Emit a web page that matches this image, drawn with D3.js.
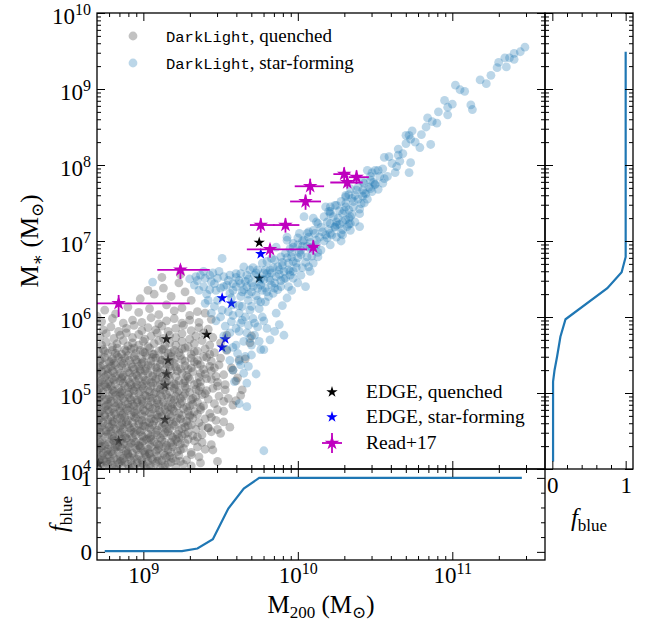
<!DOCTYPE html>
<html><head><meta charset="utf-8">
<script src="https://cdn.jsdelivr.net/npm/d3@7"></script>
<style>body{margin:0;background:#fff}svg{display:block}text{font-family:"Liberation Serif","DejaVu Serif",serif;fill:#000}</style>
</head><body><svg id="c" width="654" height="625"></svg>
<script>
// ---------- DATA (log10 values) ----------
// DarkLight quenched: [log M200, log M*]
const quenched = [
[8.70,4.03],[8.72,4.08],[8.75,4.01],[8.77,4.06],[8.79,4.10],[8.81,4.02],[8.84,4.07],[8.86,4.04],[8.88,4.09],[8.91,4.01],[8.93,4.05],[8.96,4.08],[8.98,4.02],[9.00,4.06],[9.03,4.10],[9.05,4.03],[9.08,4.07],[9.11,4.01],[9.14,4.05],[9.18,4.09],[9.21,4.02],[9.26,4.06],[9.31,4.04],[9.37,4.08],
[8.71,4.13],[8.73,4.18],[8.76,4.11],[8.78,4.16],[8.80,4.20],[8.83,4.12],[8.85,4.17],[8.87,4.14],[8.90,4.19],[8.92,4.11],[8.94,4.15],[8.97,4.18],[8.99,4.12],[9.02,4.16],[9.04,4.20],[9.06,4.13],[9.09,4.17],[9.12,4.11],[9.15,4.15],[9.19,4.14],[9.23,4.18],[9.28,4.12],[9.36,4.16],
[8.70,4.24],[8.72,4.28],[8.74,4.21],[8.77,4.26],[8.79,4.23],[8.82,4.29],[8.84,4.22],[8.86,4.27],[8.89,4.24],[8.91,4.29],[8.93,4.21],[8.96,4.25],[8.98,4.28],[9.01,4.22],[9.03,4.26],[9.05,4.29],[9.08,4.23],[9.10,4.27],[9.13,4.21],[9.16,4.25],[9.19,4.29],[9.22,4.23],[9.26,4.27],[9.31,4.22],[9.40,4.26],
[8.71,4.33],[8.73,4.38],[8.75,4.31],[8.78,4.35],[8.80,4.39],[8.82,4.32],[8.85,4.36],[8.87,4.33],[8.89,4.40],[8.92,4.34],[8.94,4.37],[8.97,4.31],[8.99,4.35],[9.02,4.39],[9.04,4.32],[9.07,4.36],[9.09,4.33],[9.12,4.38],[9.15,4.31],[9.18,4.35],[9.21,4.39],[9.24,4.33],[9.27,4.34],[9.33,4.37],[9.44,4.32],
[8.70,4.44],[8.72,4.48],[8.75,4.42],[8.77,4.46],[8.79,4.49],[8.81,4.41],[8.84,4.45],[8.86,4.49],[8.88,4.43],[8.91,4.47],[8.93,4.41],[8.95,4.45],[8.98,4.49],[9.00,4.42],[9.03,4.46],[9.05,4.43],[9.08,4.48],[9.11,4.41],[9.13,4.45],[9.16,4.49],[9.19,4.42],[9.22,4.46],[9.25,4.44],[9.29,4.48],[9.35,4.42],[9.38,4.45],[9.50,4.47],
[8.71,4.53],[8.73,4.57],[8.76,4.51],[8.78,4.55],[8.80,4.59],[8.82,4.52],[8.85,4.56],[8.87,4.53],[8.90,4.58],[8.92,4.51],[8.94,4.55],[8.97,4.59],[8.99,4.52],[9.01,4.56],[9.04,4.54],[9.06,4.58],[9.09,4.51],[9.12,4.55],[9.14,4.59],[9.17,4.53],[9.20,4.57],[9.23,4.51],[9.27,4.55],[9.31,4.58],[9.34,4.52],[9.42,4.54],[9.56,4.55],
[8.70,4.63],[8.72,4.67],[8.74,4.61],[8.77,4.65],[8.79,4.69],[8.81,4.62],[8.83,4.66],[8.86,4.61],[8.88,4.68],[8.90,4.64],[8.93,4.61],[8.95,4.67],[8.97,4.63],[9.00,4.69],[9.02,4.62],[9.05,4.66],[9.07,4.63],[9.10,4.68],[9.13,4.61],[9.15,4.65],[9.18,4.69],[9.21,4.62],[9.24,4.66],[9.28,4.63],[9.32,4.67],[9.36,4.61],[9.40,4.66],[9.47,4.64],
[8.71,4.73],[8.73,4.77],[8.75,4.71],[8.78,4.75],[8.80,4.79],[8.82,4.72],[8.85,4.76],[8.87,4.73],[8.89,4.79],[8.92,4.71],[8.94,4.75],[8.96,4.78],[8.99,4.72],[9.01,4.76],[9.04,4.74],[9.06,4.79],[9.09,4.71],[9.11,4.75],[9.14,4.78],[9.17,4.72],[9.20,4.76],[9.23,4.73],[9.26,4.79],[9.30,4.71],[9.33,4.75],[9.37,4.78],[9.43,4.73],[9.52,4.76],
[8.70,4.84],[8.72,4.88],[8.75,4.81],[8.77,4.85],[8.79,4.89],[8.82,4.82],[8.84,4.86],[8.86,4.83],[8.88,4.89],[8.91,4.81],[8.93,4.85],[8.96,4.88],[8.98,4.82],[9.00,4.86],[9.03,4.84],[9.05,4.89],[9.08,4.81],[9.10,4.85],[9.13,4.88],[9.16,4.82],[9.19,4.86],[9.22,4.83],[9.25,4.89],[9.28,4.81],[9.32,4.85],[9.35,4.88],[9.39,4.83],[9.46,4.86],[9.58,4.84],
[8.71,4.93],[8.73,4.97],[8.76,4.91],[8.78,4.95],[8.80,4.99],[8.83,4.92],[8.85,4.96],[8.87,4.93],[8.90,4.98],[8.92,4.91],[8.94,4.95],[8.97,4.99],[8.99,4.92],[9.02,4.96],[9.04,4.94],[9.07,4.99],[9.09,4.91],[9.12,4.95],[9.15,4.98],[9.18,4.92],[9.21,4.96],[9.24,4.93],[9.27,4.99],[9.31,4.91],[9.34,4.95],[9.38,4.98],[9.42,4.92],[9.49,4.96],[9.63,4.97],
[8.70,5.03],[8.72,5.07],[8.74,5.01],[8.77,5.05],[8.79,5.09],[8.81,5.02],[8.84,5.06],[8.86,5.03],[8.88,5.09],[8.91,5.01],[8.93,5.05],[8.95,5.08],[8.98,5.02],[9.00,5.06],[9.03,5.04],[9.05,5.09],[9.08,5.01],[9.11,5.05],[9.14,5.08],[9.17,5.02],[9.20,5.06],[9.23,5.03],[9.27,5.09],[9.30,5.01],[9.34,5.05],[9.37,5.08],[9.41,5.03],[9.45,5.06],[9.53,5.04],
[8.71,5.13],[8.73,5.17],[8.75,5.11],[8.78,5.15],[8.80,5.19],[8.82,5.12],[8.85,5.16],[8.87,5.13],[8.90,5.18],[8.92,5.11],[8.95,5.15],[8.97,5.19],[9.00,5.12],[9.02,5.16],[9.05,5.14],[9.08,5.18],[9.11,5.11],[9.14,5.15],[9.17,5.19],[9.20,5.12],[9.23,5.16],[9.26,5.13],[9.30,5.18],[9.33,5.11],[9.37,5.15],[9.41,5.19],[9.48,5.14],[9.60,5.16],
[8.70,5.24],[8.73,5.28],[8.75,5.21],[8.77,5.25],[8.80,5.29],[8.82,5.22],[8.85,5.26],[8.87,5.23],[8.90,5.28],[8.93,5.21],[8.95,5.25],[8.98,5.29],[9.00,5.22],[9.03,5.26],[9.06,5.24],[9.09,5.28],[9.12,5.21],[9.15,5.25],[9.18,5.29],[9.21,5.22],[9.25,5.26],[9.28,5.23],[9.32,5.28],[9.36,5.21],[9.40,5.25],[9.44,5.29],[9.52,5.24],
[8.71,5.33],[8.74,5.37],[8.76,5.31],[8.79,5.35],[8.81,5.39],[8.84,5.32],[8.86,5.36],[8.89,5.33],[8.92,5.38],[8.94,5.31],[8.97,5.35],[8.99,5.39],[9.02,5.32],[9.05,5.36],[9.08,5.34],[9.11,5.38],[9.14,5.31],[9.17,5.35],[9.20,5.39],[9.24,5.32],[9.27,5.36],[9.31,5.33],[9.35,5.38],[9.39,5.31],[9.43,5.35],[9.49,5.37],[9.57,5.33],
[8.72,5.43],[8.75,5.47],[8.78,5.41],[8.80,5.45],[8.83,5.49],[8.86,5.42],[8.88,5.46],[8.91,5.43],[8.94,5.48],[8.96,5.41],[8.99,5.45],[9.02,5.49],[9.05,5.42],[9.08,5.46],[9.11,5.44],[9.14,5.48],[9.17,5.41],[9.20,5.45],[9.24,5.49],[9.27,5.42],[9.31,5.46],[9.35,5.43],[9.39,5.48],[9.44,5.42],[9.50,5.46],[9.62,5.44],
[8.71,5.53],[8.74,5.57],[8.77,5.52],[8.80,5.56],[8.83,5.59],[8.86,5.51],[8.89,5.55],[8.92,5.58],[8.95,5.52],[8.98,5.56],[9.01,5.53],[9.04,5.59],[9.07,5.51],[9.10,5.55],[9.13,5.58],[9.16,5.52],[9.20,5.56],[9.23,5.53],[9.27,5.59],[9.31,5.51],[9.35,5.55],[9.40,5.58],[9.46,5.53],[9.54,5.56],
[8.73,5.63],[8.76,5.67],[8.80,5.61],[8.83,5.65],[8.87,5.69],[8.90,5.62],[8.93,5.66],[8.97,5.63],[9.00,5.68],[9.03,5.61],[9.07,5.65],[9.10,5.69],[9.14,5.62],[9.17,5.66],[9.21,5.63],[9.25,5.68],[9.29,5.61],[9.33,5.65],[9.38,5.69],[9.43,5.63],[9.50,5.66],[9.69,5.66],
[8.72,5.74],[8.76,5.78],[8.81,5.72],[8.85,5.76],[8.89,5.79],[8.93,5.73],[8.97,5.77],[9.01,5.71],[9.05,5.75],[9.09,5.79],[9.13,5.72],[9.17,5.76],[9.21,5.73],[9.25,5.78],[9.30,5.71],[9.34,5.75],[9.39,5.79],[9.45,5.73],[9.54,5.76],
[8.74,5.83],[8.79,5.87],[8.84,5.81],[8.89,5.85],[8.94,5.89],[8.99,5.82],[9.03,5.86],[9.08,5.83],[9.12,5.88],[9.16,5.81],[9.21,5.85],[9.26,5.89],[9.31,5.82],[9.36,5.86],[9.42,5.84],
[8.73,5.94],[8.80,5.98],[8.87,5.92],[8.93,5.96],[8.99,5.93],[9.05,5.99],[9.10,5.91],[9.15,5.95],[9.20,5.98],[9.25,5.92],[9.30,5.96],[9.36,5.93],[9.44,5.97],
[8.75,6.09],[8.82,6.04],[8.90,6.13],[8.97,6.06],[9.04,6.11],[9.10,6.03],[9.15,6.16],[9.20,6.08],[9.25,6.12],[9.30,6.02],[9.35,6.07],[8.70,6.01],[9.40,6.05],
[8.98,6.24],[9.07,6.30],[9.13,6.38],[9.18,6.27],[9.23,6.45],[9.27,6.33],[9.31,6.22],[9.12,6.52],[9.24,6.56],[9.03,6.35],
[9.64,5.04],[9.58,5.30],[9.66,5.45],[9.61,5.20],[9.70,5.75],[9.48,4.10],[9.52,4.62],[9.60,4.90],[9.45,4.25],[9.42,4.54],
[8.72,4.05],[8.76,4.09],[8.80,4.05],[8.85,4.10],[8.90,4.06],[8.94,4.03],[8.99,4.08],[9.04,4.05],[9.09,4.10],[9.13,4.03],[9.16,4.07],[9.24,4.10],[8.82,4.00],[9.02,4.00],
[8.72,4.15],[8.77,4.19],[8.81,4.14],[8.86,4.11],[8.91,4.16],[8.96,4.13],[9.01,4.19],[9.05,4.15],[9.10,4.12],[9.14,4.18],[9.21,4.11],[9.31,4.19],[8.74,4.12],[8.89,4.20],[9.17,4.17],
[8.71,4.26],[8.76,4.23],[8.81,4.25],[8.85,4.29],[8.90,4.21],[8.95,4.27],[9.00,4.24],[9.04,4.21],[9.09,4.25],[9.14,4.28],[9.18,4.22],[9.24,4.25],[9.35,4.29],[8.73,4.30],[8.98,4.30],
[8.72,4.35],[8.77,4.32],[8.81,4.37],[8.86,4.39],[8.90,4.31],[8.95,4.35],[9.00,4.37],[9.05,4.39],[9.10,4.31],[9.14,4.35],[9.19,4.32],[9.29,4.39],[8.83,4.30],[9.22,4.36],[9.38,4.35],
[8.71,4.46],[8.76,4.49],[8.80,4.43],[8.85,4.47],[8.89,4.41],[8.94,4.48],[8.99,4.44],[9.04,4.41],[9.09,4.45],[9.14,4.48],[9.18,4.44],[9.23,4.41],[9.27,4.46],[9.32,4.44],[9.44,4.49],
[8.72,4.55],[8.77,4.59],[8.81,4.53],[8.86,4.58],[8.91,4.54],[8.96,4.51],[9.00,4.57],[9.05,4.52],[9.10,4.57],[9.15,4.53],[9.19,4.59],[9.25,4.53],[9.29,4.57],[9.38,4.56],[9.48,4.52],
[8.71,4.65],[8.75,4.69],[8.80,4.63],[8.85,4.67],[8.89,4.62],[8.94,4.69],[8.99,4.64],[9.04,4.61],[9.08,4.66],[9.12,4.69],[9.17,4.63],[9.22,4.67],[9.26,4.61],[9.30,4.69],[9.44,4.68],
[8.72,4.75],[8.77,4.78],[8.81,4.74],[8.86,4.71],[8.90,4.77],[8.95,4.73],[9.00,4.78],[9.05,4.72],[9.10,4.77],[9.15,4.74],[9.19,4.79],[9.25,4.71],[9.29,4.76],[9.35,4.72],[9.48,4.78],
[8.71,4.86],[8.76,4.83],[8.81,4.87],[8.85,4.81],[8.90,4.86],[8.94,4.83],[8.99,4.89],[9.04,4.82],[9.09,4.87],[9.14,4.84],[9.18,4.81],[9.24,4.86],[9.30,4.83],[9.37,4.81],[9.52,4.89],
[8.72,4.95],[8.77,4.92],[8.82,4.97],[8.86,4.99],[8.91,4.94],[8.96,4.91],[9.01,4.97],[9.06,4.93],[9.11,4.98],[9.16,4.94],[9.20,4.91],[9.26,4.96],[9.32,4.93],[9.40,4.99],[9.55,4.93],
[8.71,5.05],[8.76,5.08],[8.80,5.04],[8.85,5.01],[8.90,5.07],[8.94,5.03],[8.99,5.09],[9.04,5.02],[9.09,5.07],[9.13,5.04],[9.18,5.09],[9.22,5.01],[9.28,5.06],[9.36,5.03],[9.48,5.09],
[8.72,5.15],[8.77,5.12],[8.81,5.17],[8.86,5.19],[8.91,5.14],[8.96,5.11],[9.01,5.17],[9.06,5.13],[9.10,5.18],[9.15,5.14],[9.21,5.11],[9.27,5.16],[9.35,5.13],[9.44,5.18],[9.53,5.11],
[8.71,5.26],[8.76,5.23],[8.81,5.27],[8.86,5.21],[8.91,5.26],[8.96,5.23],[9.01,5.29],[9.06,5.22],[9.11,5.27],[9.16,5.23],[9.22,5.29],[9.29,5.21],[9.37,5.26],[9.47,5.22],
[8.72,5.35],[8.77,5.32],[8.82,5.37],[8.87,5.39],[8.93,5.34],[8.98,5.31],[9.03,5.37],[9.09,5.33],[9.15,5.38],[9.21,5.34],[9.29,5.31],[9.37,5.37],[9.46,5.33],
[8.73,5.45],[8.79,5.42],[8.84,5.47],[8.90,5.49],[8.95,5.44],[9.00,5.41],[9.06,5.47],[9.12,5.43],[9.18,5.48],[9.25,5.44],[9.33,5.41],[9.41,5.47],
[8.75,5.55],[8.82,5.52],[8.88,5.57],[8.94,5.59],[9.00,5.54],[9.06,5.51],[9.12,5.57],[9.18,5.53],[9.25,5.58],[9.33,5.54],[9.43,5.51]
];
// DarkLight star-forming: [log M200, log M*]
const starForming = [
[11.47,9.55],[11.44,9.49],[11.40,9.47],[11.40,9.39],[11.37,9.41],[11.34,9.41],[11.35,9.29],[11.29,9.28],[11.22,9.07],[11.08,8.97],[11.05,8.99],[11.13,8.73],[11.12,8.79],[10.97,8.76],[10.97,8.66],[10.91,8.70],[10.87,8.57],[10.83,8.50],[10.86,8.27],[10.79,8.23],[10.74,8.45],[10.72,8.39],[10.70,8.39],[10.73,8.34],[10.65,8.21],[10.65,8.13],[10.66,8.05],[10.59,8.11],[10.56,8.10],[10.73,8.03],[10.72,7.90],[10.63,7.90],[10.52,7.93],[10.50,7.93],[10.48,7.90],[10.45,7.93],[10.56,7.82],[10.55,7.76],[10.47,7.85],[10.49,7.77],[10.46,7.71],[10.43,7.76],[10.48,7.65],[10.42,7.67],[10.38,7.67],[10.42,7.59],[10.35,7.56],[10.31,7.60],[10.31,7.50],[10.41,7.49],[10.43,7.50],[10.33,7.41],[10.28,7.52],[10.25,7.47],[10.34,7.32],[10.31,7.28],[10.29,7.25],[10.40,7.19],[10.34,7.23],[10.24,7.19],[10.25,7.25],[10.22,7.08],[10.28,7.10],[10.21,7.36],[10.21,7.45],
[10.47,7.69],[10.50,7.74],[10.43,7.63],[10.39,7.71],[10.33,7.61],[10.36,7.52],[10.40,7.36],[10.21,7.39],[10.29,7.36],[10.17,7.32],[10.21,7.23],[10.13,7.23],[10.25,7.21],[10.32,7.19],[10.10,7.14],[10.16,7.12],[10.06,7.10],[10.12,7.01],[10.04,7.01],[10.00,7.04],[10.08,6.90],[10.03,6.93],[9.97,6.97],[9.95,6.90],[9.93,7.01],[10.06,6.79],[10.02,6.82],[9.96,6.79],[9.92,6.84],[9.89,6.79],[9.99,6.71],[9.94,6.71],[9.90,6.68],[9.85,6.75],[9.83,6.77],[9.88,6.62],[9.82,6.62],[9.95,6.60],[9.97,6.51],[9.92,6.51],[9.86,6.53],[9.80,6.57],[9.78,6.49],[9.83,6.42],[9.89,6.40],[9.94,6.40],[9.80,6.33],[9.76,6.42],[9.74,6.38],[9.70,6.33],[9.67,6.40],[9.63,6.44],[9.58,6.44],[9.63,6.57],[9.67,6.55],[9.69,6.62],[9.65,6.66],[9.74,6.62],[9.80,6.73],[9.77,6.71],[9.60,6.57],[9.56,6.55],[9.52,6.53],[9.49,6.60],[9.51,6.77],[9.48,6.51],[9.43,6.55],[9.40,6.51],[9.37,6.55],[9.34,6.53],[9.46,6.44],[9.54,6.42],[9.50,6.38],[9.43,6.36],[9.39,6.40],[9.56,6.31],[9.63,6.27],[9.68,6.22],[9.74,6.22],[9.79,6.20],[9.84,6.31],[9.75,6.11],[9.69,6.09],[9.64,6.14],[9.58,6.16],[9.77,6.00],[9.71,5.98],[9.66,6.00],[9.62,6.05],[9.55,6.07],[9.51,6.09],[9.46,6.14],[9.42,6.22],[9.74,5.87],[9.68,5.89],[9.63,5.92],[9.57,5.94],[9.62,5.81],[9.67,5.79],[9.72,5.76],[9.56,5.79],[9.85,5.81],[9.91,5.76],[9.80,5.85],[9.65,5.68],[9.60,5.63],[9.70,5.63],[9.76,5.57],[9.54,5.57],[9.61,5.52],[9.66,5.48],[9.56,5.43],[9.63,5.37],[9.68,5.35],[9.58,5.30],[9.65,5.26],[9.78,5.57],[9.67,5.13],[9.62,4.86],[9.67,4.82],[9.78,4.24],[9.06,6.46],
[10.04,7.32],[10.12,7.25],[10.01,7.10],[10.20,7.39],[10.24,7.47],[10.31,7.58],[10.34,7.69],[10.07,7.12],[10.19,7.04],[10.29,7.08],[10.34,7.14],[10.37,7.25],[10.13,6.79],[10.10,6.71],[10.07,6.66],[9.97,6.73],[9.87,6.36],[9.81,6.27],[9.76,6.20],[9.70,6.14],
[9.55,6.48],[9.60,6.52],[9.66,6.47],[9.72,6.55],[9.78,6.58],[9.84,6.65],[9.90,6.72],[9.96,6.85],[10.02,6.88],[10.08,6.98],[10.14,7.05],[10.20,7.15],[10.26,7.30],[10.30,7.40],[10.36,7.45],[9.58,6.35],[9.64,6.33],[9.70,6.45],[9.76,6.50],[9.82,6.48],[9.88,6.56],[9.94,6.62],[10.00,6.78],[10.06,6.93],[10.12,6.95],[10.18,7.08],[10.24,7.18],[10.28,7.00],[9.52,6.40],[9.47,6.35],[9.44,6.47],[9.41,6.30],[9.48,6.22],[9.57,6.25],[9.62,6.15],[9.68,6.30],[9.73,6.28],[9.79,6.38],[9.85,6.45],[9.91,6.50],[9.97,6.60],[10.03,6.65],[10.09,6.80],[10.15,6.88],[10.21,6.95],[10.27,7.22],[10.33,7.30],[10.39,7.55],[10.44,7.62],[10.50,7.75],[10.53,7.85],[9.39,6.60],[9.35,6.48],[9.45,6.58],[9.71,6.65],[9.86,6.92],[9.93,7.05],[10.00,6.95],[10.18,7.45],[10.10,7.30],
[9.60,6.40],[9.62,6.48],[9.65,6.36],[9.68,6.50],[9.71,6.40],[9.73,6.58],[9.75,6.46],[9.77,6.35],[9.79,6.62],[9.81,6.52],[9.83,6.58],[9.85,6.38],[9.87,6.66],[9.89,6.48],[9.91,6.60],[9.93,6.78],[9.95,6.55],[9.97,6.92],[9.99,6.65],[10.01,6.85],[10.03,7.00],[10.05,6.72],[10.07,7.05],[10.09,6.92],[10.11,7.10],[10.13,6.85],[10.15,7.18],[10.17,7.00],[10.19,7.25],[10.21,7.10],[10.23,7.32],[10.25,7.05],[10.27,7.40],[10.29,7.15],[10.31,7.45],[10.33,7.22],[10.35,7.35],[10.37,7.60],[10.40,7.42],[10.42,7.78],[10.45,7.55],[10.47,7.80],[10.52,7.68],[10.55,7.95],[10.58,7.85],[10.61,8.02],[10.64,7.98],[10.68,8.15],[10.70,8.28],[10.76,8.30],[10.80,8.40],[10.84,8.62],[10.90,8.55],[10.95,8.85],[11.00,8.80],[11.02,9.05],[11.18,9.12],[11.25,9.18],[11.30,9.35],
[9.50,6.00],[9.53,5.88],[9.58,6.02],[9.60,5.85],[9.64,5.96],[9.69,5.72],[9.72,5.92],[9.75,5.68],[9.78,5.95],[9.82,5.70],[9.86,6.05],[9.88,5.90],[9.90,6.15],[9.93,6.25],[9.96,6.35],[10.00,6.45],[10.02,6.55],[10.05,6.40],[10.08,6.60],[9.58,5.60],[9.62,5.42],[9.70,5.50],[9.73,5.25],[9.59,5.15],[9.52,5.75],[9.47,5.95],[9.44,6.05],[9.40,6.18],[9.36,6.35],[9.33,6.42],[9.30,6.50]
];
// EDGE simulations
const edgeQuenched = [[9.75,6.98],[9.75,6.51],[9.41,5.77],[9.15,5.71],[9.16,5.43],[9.15,5.25],[9.14,5.10],[9.14,4.65],[8.84,4.37],[8.71,4.07]];
const edgeStarForming = [[9.51,6.25],[9.57,6.18],[9.53,5.71],[9.51,5.60],[9.76,6.83]];
// Read+17 (log M200 with range, log M* with range)
const readM200   = [8.84, 9.24, 9.76, 9.92, 9.82, 10.10, 10.05, 10.08, 10.30, 10.32, 10.38];
const readM200lo = [8.50, 9.09, 9.69, 9.84, 9.67, 10.07, 9.95, 9.98, 10.23, 10.21, 10.33];
const readM200hi = [9.30, 9.43, 9.85, 10.01, 10.06, 10.13, 10.15, 10.17, 10.34, 10.42, 10.46];
const readMstar   = [6.18, 6.62, 7.21, 7.21, 6.89, 6.92, 7.52, 7.72, 7.88, 7.77, 7.84];
const readMstarLo = [6.00, 6.50, 7.11, 7.11, 6.78, 6.82, 7.41, 7.61, 7.80, 7.69, 7.75];
const readMstarHi = [6.29, 6.68, 7.30, 7.30, 6.96, 7.01, 7.61, 7.82, 7.97, 7.86, 7.93];
// blue fraction vs halo mass
const fHaloM = [8.75,8.85,8.95,9.05,9.15,9.25,9.35,9.45,9.55,9.65,9.75,9.85,9.95,10.05,10.15,10.25,10.35,10.45,10.55,10.65,10.75,10.85,10.95,11.05,11.15,11.25,11.35,11.45];
const fHalo  = [0.01,0.01,0.01,0.01,0.01,0.01,0.045,0.17,0.585,0.855,1,1,1,1,1,1,1,1,1,1,1,1,1,1,1,1,1,1];
// blue fraction vs stellar mass
const fStarM = [4.10,5.15,5.30,5.48,5.74,5.97,6.38,6.59,6.79,9.49];
const fStar  = [0.01,0.01,0.03,0.065,0.11,0.18,0.75,0.945,1,1];
// tick labels
const xMajor = [1e9,1e10,1e11];
const yMajor = [1e4,1e5,1e6,1e7,1e8,1e9,1e10];
const fMajor = [0,1], fMinor = [0.2,0.4,0.6,0.8];

// ---------- LAYOUT ----------
const L=97, R=545, T=13, B=469, B2=560, R2=633;
const svg = d3.select("#c");
const x  = d3.scaleLog().domain([10**8.70, 10**11.60]).range([L,R]);
const y  = d3.scaleLog().domain([1e4,1e10]).range([B,T]);
const yf = d3.scaleLinear().domain([-0.11,1.12]).range([B2,B]);
const xf = d3.scaleLinear().domain([-0.1,1.1]).range([R,R2]);
const P = v => 10**v;
const GREY="#555555", GOP=0.36, BLUE="#1f77b4", BOP=0.3, MAG="#bf00bf";

const xMinor=[], yMinor=[];
for (let n=8;n<=11;n++) for (let k=2;k<=9;k++){const v=k*10**n; if(v>x.domain()[0]&&v<x.domain()[1]) xMinor.push(v);}
for (let n=4;n<=9;n++) for (let k=2;k<=9;k++) yMinor.push(k*10**n);

const defs = svg.append("defs");
function clip(id,x0,y0,w,h){defs.append("clipPath").attr("id",id).append("rect").attr("x",x0).attr("y",y0).attr("width",w).attr("height",h);}
clip("cm",L,T,R-L,B-T); clip("cb",L,B,R-L,B2-B); clip("cr",R,T,R2-R,B-T);

// ---------- MAIN PANEL ----------
const gm = svg.append("g").attr("clip-path","url(#cm)");
const star = s => d3.symbol(d3.symbolStar, s)();
gm.selectAll(".eq").data(edgeQuenched).join("path").attr("d",star(40))
  .attr("transform",d=>`translate(${x(P(d[0]))},${y(P(d[1]))})`).attr("fill","#000");
gm.selectAll(".es").data(edgeStarForming).join("path").attr("d",star(40))
  .attr("transform",d=>`translate(${x(P(d[0]))},${y(P(d[1]))})`).attr("fill","#0000ff");
gm.selectAll(".q").data(quenched).join("circle").attr("cx",d=>x(P(d[0]))).attr("cy",d=>y(P(d[1])))
  .attr("r",4.4).attr("fill",GREY).attr("fill-opacity",GOP);
gm.selectAll(".sf").data(starForming).join("circle").attr("cx",d=>x(P(d[0]))).attr("cy",d=>y(P(d[1])))
  .attr("r",4.4).attr("fill",BLUE).attr("fill-opacity",BOP);
const rd = readM200.map((m,i)=>({m, mlo:readM200lo[i], mhi:readM200hi[i], s:readMstar[i], slo:readMstarLo[i], shi:readMstarHi[i]}));
gm.selectAll(".rx").data(rd).join("line").attr("x1",d=>x(P(d.mlo))).attr("x2",d=>x(P(d.mhi)))
  .attr("y1",d=>y(P(d.s))).attr("y2",d=>y(P(d.s))).attr("stroke",MAG).attr("stroke-width",1.8);
gm.selectAll(".ry").data(rd).join("line").attr("x1",d=>x(P(d.m))).attr("x2",d=>x(P(d.m)))
  .attr("y1",d=>y(P(d.slo))).attr("y2",d=>y(P(d.shi))).attr("stroke",MAG).attr("stroke-width",1.8);
gm.selectAll(".rs").data(rd).join("path").attr("d",star(66))
  .attr("transform",d=>`translate(${x(P(d.m))},${y(P(d.s))})`).attr("fill",MAG);

// ---------- BOTTOM PANEL ----------
const gb = svg.append("g").attr("clip-path","url(#cb)");
gb.append("path").datum(fHaloM.map((m,i)=>[m,fHalo[i]]))
  .attr("d",d3.line().x(d=>x(P(d[0]))).y(d=>yf(d[1])))
  .attr("fill","none").attr("stroke",BLUE).attr("stroke-width",2.2);

// ---------- RIGHT PANEL ----------
const gr = svg.append("g").attr("clip-path","url(#cr)");
gr.append("path").datum(fStarM.map((m,i)=>[m,fStar[i]]))
  .attr("d",d3.line().x(d=>xf(d[1])).y(d=>y(P(d[0]))))
  .attr("fill","none").attr("stroke",BLUE).attr("stroke-width",2.2);

// ---------- AXES ----------
function ax(gen, scale, tx, ty, vals, size, pad, fmt){
  const a = gen(scale).tickValues(vals).tickSize(-size).tickSizeOuter(0).tickPadding(pad).tickFormat(fmt||"");
  const g = svg.append("g").attr("transform",`translate(${tx},${ty})`).call(a);
  g.select(".domain").remove();
  g.attr("color","#000").attr("font-family",null).attr("font-size",null);
  g.selectAll(".tick line").attr("stroke-width",1);
  return g;
}
function sup(g){
  g.selectAll(".tick text").each(function(d){
    const t=d3.select(this); t.text(null).style("font-size","23px");
    t.append("tspan").text("10");
    t.append("tspan").attr("dy","-9").style("font-size","16px").text(Math.round(Math.log10(d)));
  });
}
const MJ=8, MN=4;
// main
const gl = ax(d3.axisLeft, y, L,0, yMajor, MJ, 6, d=>String(d)); sup(gl); gl.selectAll(".tick text").attr("dy","10");
ax(d3.axisLeft, y, L,0, yMinor, MN, 0);
ax(d3.axisRight, y, R,0, yMajor, MJ, 0); ax(d3.axisRight, y, R,0, yMinor, MN, 0);
ax(d3.axisTop, x, 0,T, xMajor, MJ, 0); ax(d3.axisTop, x, 0,T, xMinor, MN, 0);
ax(d3.axisBottom, x, 0,B, xMajor, MJ, 0); ax(d3.axisBottom, x, 0,B, xMinor, MN, 0);
// bottom
ax(d3.axisTop, x, 0,B, xMajor, MJ, 0); ax(d3.axisTop, x, 0,B, xMinor, MN, 0);
const gbx = ax(d3.axisBottom, x, 0,B2, xMajor, MJ, 7, d=>String(d)); sup(gbx);
ax(d3.axisBottom, x, 0,B2, xMinor, MN, 0);
const gby = ax(d3.axisLeft, yf, L,0, fMajor, MJ, 5, d=>String(d));
gby.selectAll(".tick text").style("font-size","23px").attr("dy","8");
ax(d3.axisLeft, yf, L,0, fMinor, MN, 0);
ax(d3.axisRight, yf, R,0, fMajor, MJ, 0); ax(d3.axisRight, yf, R,0, fMinor, MN, 0);
// right
ax(d3.axisLeft, y, R,0, yMajor, MJ, 0); ax(d3.axisLeft, y, R,0, yMinor, MN, 0);
ax(d3.axisRight, y, R2,0, yMajor, MJ, 0); ax(d3.axisRight, y, R2,0, yMinor, MN, 0);
ax(d3.axisTop, xf, 0,T, fMajor, MJ, 0); ax(d3.axisTop, xf, 0,T, fMinor, MN, 0);
const grx = ax(d3.axisBottom, xf, 0,B, fMajor, MJ, 8, d=>String(d));
grx.selectAll(".tick text").style("font-size","23px");
ax(d3.axisBottom, xf, 0,B, fMinor, MN, 0);

// frames
[[L,T,R-L,B-T],[L,B,R-L,B2-B],[R,T,R2-R,B-T]].forEach(r=>svg.append("rect").attr("x",r[0]).attr("y",r[1]).attr("width",r[2]).attr("height",r[3])
  .attr("fill","none").attr("stroke","#000").attr("stroke-width",1.3));

// ---------- LABELS ----------
function fb(t){ t.append("tspan").style("font-style","italic").text("f"); t.append("tspan").attr("dy","5").style("font-size","17px").text("blue"); }
const yl = svg.append("text").attr("transform","translate(38,241) rotate(-90)").attr("text-anchor","middle").style("font-size","25px");
yl.append("tspan").text("M"); yl.append("tspan").attr("dy","5").style("font-size","17px").text("∗");
yl.append("tspan").attr("dy","-5").text(" (M"); yl.append("tspan").attr("dy","5").style("font-size","17px").text("⊙");
yl.append("tspan").attr("dy","-5").text(")");
const xl = svg.append("text").attr("x",321).attr("y",613).attr("text-anchor","middle").style("font-size","25px");
xl.append("tspan").text("M"); xl.append("tspan").attr("dy","5").style("font-size","17px").text("200");
xl.append("tspan").attr("dy","-5").text(" (M"); xl.append("tspan").attr("dy","5").style("font-size","17px").text("⊙");
xl.append("tspan").attr("dy","-5").text(")");
const fl1 = svg.append("text").attr("transform","translate(67,514) rotate(-90)").attr("text-anchor","middle").style("font-size","25px"); fb(fl1);
const fl2 = svg.append("text").attr("x",589).attr("y",526).attr("text-anchor","middle").style("font-size","25px"); fb(fl2);

// ---------- LEGENDS ----------
const lg = svg.append("g");
[[GREY,GOP,"quenched",36],[BLUE,BOP,"star-forming",63]].forEach(r=>{
  lg.append("circle").attr("cx",133).attr("cy",r[3]).attr("r",4.4).attr("fill",r[0]).attr("fill-opacity",r[1]);
  const t = lg.append("text").attr("x",166).attr("y",r[3]+5.5).style("font-size","19px");
  t.append("tspan").style("font-family","'Liberation Mono','DejaVu Sans Mono',monospace").style("font-size","15.5px").text("DarkLight");
  t.append("tspan").text(", "+r[2]);
});
lg.append("path").attr("d",star(40)).attr("transform","translate(332,392)").attr("fill","#000");
lg.append("path").attr("d",star(40)).attr("transform","translate(332,417)").attr("fill","#0000ff");
lg.append("line").attr("x1",322).attr("x2",342).attr("y1",443).attr("y2",443).attr("stroke",MAG).attr("stroke-width",1.8);
lg.append("line").attr("x1",332).attr("x2",332).attr("y1",433).attr("y2",453).attr("stroke",MAG).attr("stroke-width",1.8);
lg.append("path").attr("d",star(66)).attr("transform","translate(332,443)").attr("fill",MAG);
[["EDGE, quenched",392],["EDGE, star-forming",417],["Read+17",443]].forEach(r=>
  lg.append("text").attr("x",366).attr("y",r[1]+6).style("font-size","19.5px").text(r[0]));
</script></body></html>
